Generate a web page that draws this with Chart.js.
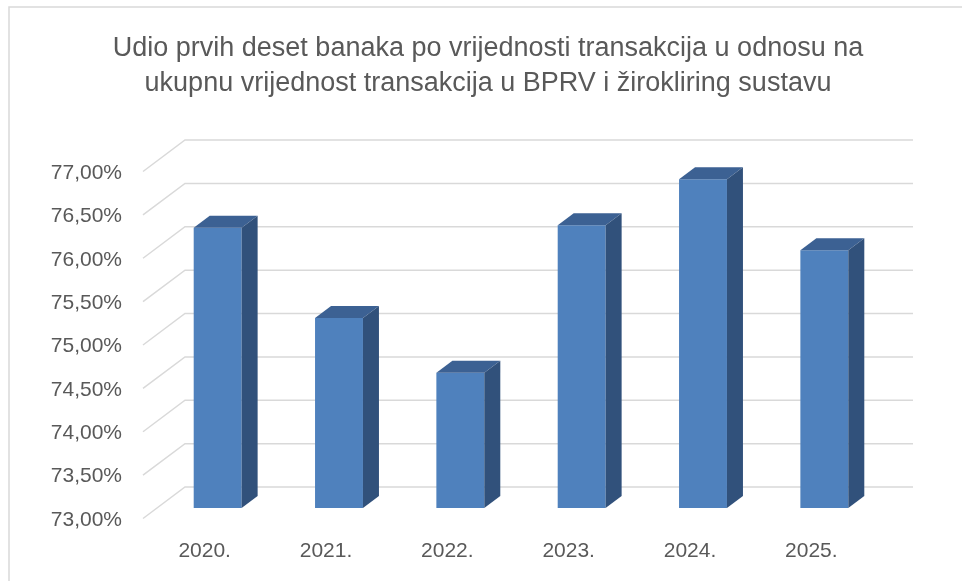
<!DOCTYPE html>
<html>
<head>
<meta charset="utf-8">
<title>Udio prvih deset banaka</title>
<script src="https://cdn.jsdelivr.net/npm/chart.js@4.4.1/dist/chart.umd.min.js"></script>
<style>
  html, body { margin: 0; padding: 0; background: #fff; }
  canvas { display: block; }
</style>
</head>
<body>
<canvas id="shareChart" width="962" height="581"></canvas>
<script>
// Chart data
const titleLines = [
    'Udio prvih deset banaka po vrijednosti transakcija u odnosu na',
    'ukupnu vrijednost transakcija u BPRV i žirokliring sustavu'
];
const years = ['2020.', '2021.', '2022.', '2023.', '2024.', '2025.'];
const shares = [76.23, 75.19, 74.56, 76.26, 76.79, 75.97];
const yTicks = [73.0, 73.5, 74.0, 74.5, 75.0, 75.5, 76.0, 76.5, 77.0];

const FONT = '"Liberation Sans", Arial, sans-serif';
const TEXT_COLOR = '#595959';
const GRID_COLOR = '#d9d9d9';

// 3D box offsets, measured from the plane the bar fronts sit in
const FRONT = { dx: -14, dy: 10.5 };
const BACK = { dx: 28, dy: -21 };
const BAR_DEPTH = { dx: 16, dy: -12 };

function fmtPct(v) {
    return v.toFixed(2).replace('.', ',') + '%';
}

// Draws the frame border, the title, the 3D gridlines and the top/side faces of the bars
const frame3d = {
    id: 'frame3d',
    beforeDraw(chart) {
        const ctx = chart.ctx;
        ctx.save();
        ctx.strokeStyle = GRID_COLOR;
        ctx.lineWidth = 1.5;
        ctx.strokeRect(9, 7, 970, 600);

        // title, centred over the plot like the original
        ctx.fillStyle = TEXT_COLOR;
        ctx.font = '27px ' + FONT;
        ctx.textAlign = 'center';
        ctx.textBaseline = 'alphabetic';
        ctx.fillText(titleLines[0], 488, 56);
        ctx.fillText(titleLines[1], 488, 91);
        ctx.restore();
    },
    beforeDatasetsDraw(chart) {
        const { ctx, chartArea } = chart;
        const y = chart.scales.y;
        ctx.save();
        ctx.strokeStyle = GRID_COLOR;
        ctx.lineWidth = 1.5;
        y.ticks.forEach(function(t) {
            const py = y.getPixelForValue(t.value);
            ctx.beginPath();
            ctx.moveTo(chartArea.left + FRONT.dx, py + FRONT.dy);
            ctx.lineTo(chartArea.left + BACK.dx, py + BACK.dy);
            ctx.lineTo(chartArea.right + BACK.dx, py + BACK.dy);
            ctx.stroke();
        });
        ctx.restore();
    },
    afterDatasetsDraw(chart) {
        const ctx = chart.ctx;
        ctx.save();
        chart.getDatasetMeta(0).data.forEach(function(bar) {
            const l = bar.x - bar.width / 2;
            const r = bar.x + bar.width / 2;
            // top face
            ctx.fillStyle = '#3c6193';
            ctx.beginPath();
            ctx.moveTo(l, bar.y);
            ctx.lineTo(l + BAR_DEPTH.dx, bar.y + BAR_DEPTH.dy);
            ctx.lineTo(r + BAR_DEPTH.dx, bar.y + BAR_DEPTH.dy);
            ctx.lineTo(r, bar.y);
            ctx.closePath();
            ctx.fill();
            // side face
            ctx.fillStyle = '#31517b';
            ctx.beginPath();
            ctx.moveTo(r, bar.y);
            ctx.lineTo(r + BAR_DEPTH.dx, bar.y + BAR_DEPTH.dy);
            ctx.lineTo(r + BAR_DEPTH.dx, bar.base + BAR_DEPTH.dy);
            ctx.lineTo(r, bar.base);
            ctx.closePath();
            ctx.fill();
        });
        ctx.restore();
    }
};

new Chart(document.getElementById('shareChart'), {
    type: 'bar',
    data: {
        labels: years,
        datasets: [{
            data: shares,
            base: yTicks[0],
            backgroundColor: '#4f81bd',
            borderWidth: 0,
            categoryPercentage: 1,
            barPercentage: 0.395
        }]
    },
    plugins: [frame3d],
    options: {
        responsive: false,
        animation: false,
        devicePixelRatio: 1,
        layout: { padding: { left: 30, right: 77, top: 161, bottom: 0 } },
        plugins: {
            legend: { display: false },
            tooltip: { enabled: false },
            title: { display: false }
        },
        scales: {
            x: {
                grid: { display: false, drawTicks: false },
                border: { display: false },
                ticks: {
                    color: TEXT_COLOR,
                    font: { family: FONT, size: 21 },
                    padding: 31,
                    labelOffset: -13
                },
                afterFit(scale) { scale.height = 73; }
            },
            y: {
                min: yTicks[0],
                max: yTicks[yTicks.length - 1],
                grid: { display: false, drawTicks: false },
                border: { display: false },
                afterBuildTicks(scale) {
                    scale.ticks = yTicks.map(function(v) { return { value: v }; });
                },
                ticks: {
                    color: TEXT_COLOR,
                    font: { family: FONT, size: 21 },
                    padding: 35,
                    labelOffset: 12,
                    callback: function(v) { return fmtPct(v); }
                },
                afterFit(scale) { scale.width = 127; }
            }
        }
    }
});
</script>
</body>
</html>
